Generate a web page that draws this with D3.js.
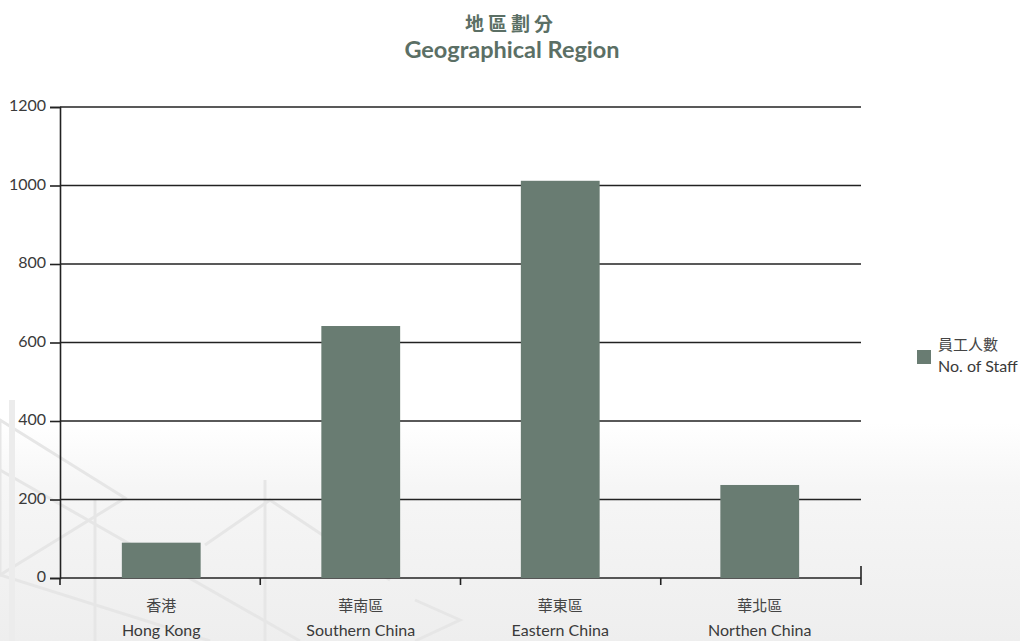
<!DOCTYPE html>
<html><head><meta charset="utf-8">
<script src="https://cdn.jsdelivr.net/npm/d3@7"></script>
<style>
html,body{margin:0;padding:0;background:#fff;}
svg{display:block;}
</style></head>
<body>
<svg id="chart" width="1020" height="641"></svg>
<script>
const categoriesZh = ["香港", "華南區", "華東區", "華北區"];
const categoriesEn = ["Hong Kong", "Southern China", "Eastern China", "Northen China"];
const staffValues = [90, 642, 1012, 237];
const yTicks = [0, 200, 400, 600, 800, 1000, 1200];
const titleZh = "地區劃分";
const titleEn = "Geographical Region";
const legendZh = "員工人數";
const legendEn = "No. of Staff";

const svg = d3.select("#chart");
const W = 1020, H = 641;
const margin = {left: 60, right: 159, top: 107, bottom: 63};
const fontEn = "Lato, 'Open Sans', sans-serif";
const fontZh = "'Noto Sans CJK TC', 'Noto Sans CJK SC', sans-serif";
const barColor = "#697c72";
const titleColor = "#5b6f65";

// background
const defs = svg.append("defs");
const grad = defs.append("linearGradient").attr("id","bg").attr("x1",0).attr("y1",0).attr("x2",0).attr("y2",1);
grad.append("stop").attr("offset","0%").attr("stop-color","#ffffff");
grad.append("stop").attr("offset","66%").attr("stop-color","#ffffff");
grad.append("stop").attr("offset","76%").attr("stop-color","#f6f6f6");
grad.append("stop").attr("offset","100%").attr("stop-color","#eeeeee");
svg.append("rect").attr("width",W).attr("height",H).attr("fill","url(#bg)");

// faint watermark lines
const wm = svg.append("g").attr("fill","none").attr("stroke","#e6e6e6").attr("stroke-width",3);
wm.append("path").attr("d","M0,420 L125,498 L0,575 Z");
wm.append("path").attr("d","M0,575 L210,641");
wm.append("path").attr("d","M0,470 L300,641");
wm.append("path").attr("d","M95,500 L95,641");
wm.append("path").attr("d","M265,480 L265,641");
wm.append("path").attr("d","M205,545 L270,500 L390,580");
wm.append("path").attr("d","M415,600 L460,620 L415,641");
wm.append("path").attr("d","M12,400 L12,641").attr("stroke","#ececec").attr("stroke-width",6);

const x = d3.scaleBand().domain(categoriesEn).range([margin.left, W - margin.right]).paddingInner(0.605).paddingOuter(0.31);
const y = d3.scaleLinear().domain([0, 1200]).range([H - margin.bottom, margin.top]);
const xBounds = d3.scaleLinear().domain([0, categoriesEn.length]).range(x.range());

// gridlines
svg.append("g").selectAll("line").data(yTicks).join("line")
  .attr("x1", margin.left).attr("x2", W - margin.right)
  .attr("y1", d => y(d)).attr("y2", d => y(d))
  .attr("stroke", "#222").attr("stroke-width", 1.6);

// bars
svg.append("g").selectAll("rect").data(staffValues).join("rect")
  .attr("x", (d,i) => x(categoriesEn[i]))
  .attr("width", x.bandwidth())
  .attr("y", d => y(d))
  .attr("height", d => y(0) - y(d))
  .attr("fill", barColor);

// y axis
const yAxis = svg.append("g").attr("transform", `translate(${margin.left},0)`)
  .call(d3.axisLeft(y).tickValues(yTicks).tickSize(10).tickPadding(4).tickFormat(d3.format("d")));
yAxis.select(".domain").attr("stroke","#222").attr("stroke-width",1.6);
yAxis.selectAll(".tick line").attr("stroke","#222").attr("stroke-width",1.6);
yAxis.selectAll(".tick text").attr("font-family", fontEn).attr("font-size", 16).attr("fill","#3a3a3a").attr("dy","0.22em");

// x axis boundary ticks
const bounds = d3.range(categoriesEn.length + 1).map(i => xBounds(i));
const xAxis = svg.append("g");
xAxis.selectAll("line").data(bounds).join("line")
  .attr("x1", d => d).attr("x2", d => d)
  .attr("y1", (d,i) => i === bounds.length-1 ? y(0) - 12 : y(0))
  .attr("y2", y(0) + 7)
  .attr("stroke","#222").attr("stroke-width",1.6);

// x labels
const lab = svg.append("g");
lab.selectAll("text.zh").data(categoriesZh).join("text").attr("class","zh")
  .attr("x", (d,i) => x(categoriesEn[i]) + x.bandwidth()/2)
  .attr("y", 611).attr("text-anchor","middle")
  .attr("font-family", fontZh).attr("font-size", 15).attr("fill","#444").text(d => d);
lab.selectAll("text.en").data(categoriesEn).join("text").attr("class","en")
  .attr("x", d => x(d) + x.bandwidth()/2)
  .attr("y", 636).attr("text-anchor","middle")
  .attr("font-family", fontEn).attr("font-size", 16).attr("fill","#3a3a3a").text(d => d);

// title
svg.append("text").attr("x", 511).attr("y", 31).attr("text-anchor","middle")
  .attr("font-family", fontZh).attr("font-weight", 600).attr("font-size", 19).attr("letter-spacing", 4)
  .attr("fill", titleColor).text(titleZh);
svg.append("text").attr("x", 512).attr("y", 58).attr("text-anchor","middle")
  .attr("font-family", fontEn).attr("font-weight", 700).attr("font-size", 23.5)
  .attr("fill", titleColor).text(titleEn);

// legend
const lg = svg.append("g");
lg.append("rect").attr("x", 917).attr("y", 350).attr("width", 14).attr("height", 14).attr("fill", barColor);
lg.append("text").attr("x", 938).attr("y", 350).attr("font-family", fontZh).attr("font-size", 15).attr("fill","#444").text(legendZh);
lg.append("text").attr("x", 938).attr("y", 372).attr("font-family", fontEn).attr("font-size", 16).attr("fill","#3a3a3a").text(legendEn);
</script>
</body></html>
